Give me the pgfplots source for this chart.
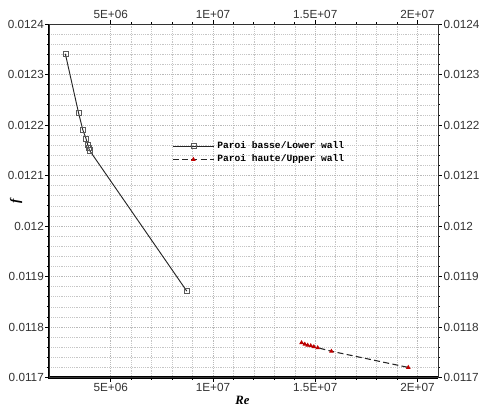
\documentclass[border=0pt]{standalone}
\usepackage{pgfplots}
\pgfplotsset{compat=1.18}
\usepackage{fontspec}
\setmainfont{Liberation Sans}
\newfontfamily\legfont{Liberation Mono}
\newfontfamily\labfont{Liberation Serif}

\begin{document}
\begin{tikzpicture}
\pgfplotsset{
  common/.style={
    scale only axis,
    width=291pt, height=264.75pt,
    xmin=2e6, xmax=2.1e7,
    ymin=0.0117, ymax=0.0124,
    scaled ticks=false,
    xtick={5e6,1e7,1.5e7,2e7},
    xticklabels={5E+06,1E+07,1.5E+07,2E+07},
    ytick={0.0117,0.0118,0.0119,0.012,0.0121,0.0122,0.0123,0.0124},
    yticklabels={0.0117,0.0118,0.0119,0.012,0.0121,0.0122,0.0123,0.0124},
    minor x tick num=4, minor y tick num=4,
    tick align=outside,
    major tick length=3pt, minor tick length=1.5pt,
    tick style={black, line width=0.6pt},
    ticklabel style={font=\fontsize{8.8}{10}\selectfont, inner sep=1pt, text=black!80},
    axis line style={line width=0.6pt, black!80},
  }
}

\begin{axis}[
    common,
    name=main,
    clip=false,
    xtick pos=left, ytick pos=left,
    grid=both,
    grid style={densely dotted, gray!55, line width=0.4pt},
    minor grid style={densely dotted, gray!45, line width=0.4pt},
    legend style={draw=none, fill=none, at={(rel axis cs:0.305,0.683)}, anchor=north west,
                  font=\legfont\bfseries\fontsize{7.2}{9}\selectfont,
                  row sep=-0.8pt},
    legend cell align=left,
    legend image code/.code={
        \draw[mark repeat=2, mark phase=2, #1] plot coordinates {(0pt,0pt) (15.5pt,0pt) (31pt,0pt)};},
]

% lower wall
\addplot[black!85, line width=0.7pt, mark=square, mark size=1.9pt,
         mark options={solid, line width=0.4pt, black!65}] coordinates {
    (2.78e6, 0.012341)
    (3.42e6, 0.012225)
    (3.63e6, 0.012191)
    (3.80e6, 0.012172)
    (3.88e6, 0.012160)
    (3.92e6, 0.012155)
    (3.96e6, 0.012150)
    (8.72e6, 0.011871)
};

% upper wall
\addplot[black!85, line width=0.8pt, dash pattern=on 4.5pt off 2.5pt,
         mark=triangle*, mark size=1.2pt,
         mark options={solid, red!75!black}] coordinates {
    (14.33e6, 0.011769)
    (14.49e6, 0.011766)
    (14.63e6, 0.011764)
    (14.78e6, 0.011763)
    (14.93e6, 0.011761)
    (15.12e6, 0.011759)
    (15.79e6, 0.011752)
    (19.55e6, 0.011720)
};

\legend{Paroi basse/Lower wall, Paroi haute/Upper wall}

\draw[line width=1.6pt, black] (rel axis cs:0,1) -- (rel axis cs:0,0) -- (rel axis cs:1,0);
\path (rel axis cs:0,0.5) ++(-25pt,0pt) node[rotate=90, font=\labfont\bfseries\itshape\fontsize{10}{12}\selectfont] {f};
\path (rel axis cs:0.497,0) ++(0pt,-17pt) node[font=\labfont\bfseries\itshape\fontsize{9.5}{11}\selectfont] {Re};
\end{axis}

\begin{axis}[
    common,
    xtick pos=right, ytick pos=right,
    xticklabel pos=right, yticklabel pos=right,
]
\end{axis}

\pgfresetboundingbox
\path[use as bounding box] ([xshift=-37pt,yshift=-21.75pt]main.south west) rectangle ([xshift=31.5pt,yshift=18pt]main.north east);
\end{tikzpicture}
\end{document}
